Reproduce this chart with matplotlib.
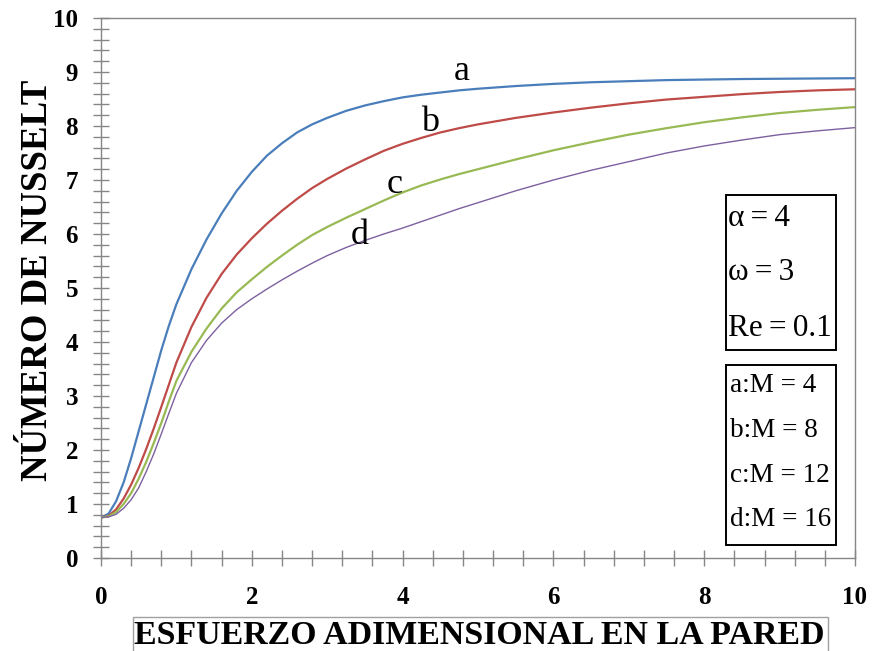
import matplotlib
matplotlib.use("Agg")
import matplotlib.pyplot as plt
from matplotlib.ticker import MultipleLocator
from matplotlib.patches import Rectangle

# ---------------- data ----------------
x_vals = [0, 0.1, 0.2, 0.3, 0.4, 0.5, 0.6, 0.7, 0.8, 0.9, 1.0,
          1.2, 1.4, 1.6, 1.8, 2.0, 2.2, 2.4, 2.6, 2.8, 3.0,
          3.25, 3.5, 3.75, 4.0, 4.25, 4.5, 4.75, 5.0,
          5.5, 6.0, 6.5, 7.0, 7.5, 8.0, 8.5, 9.0, 9.5, 10.0]

nu_a = [0.75, 0.82, 1.05, 1.4, 1.85, 2.35, 2.85, 3.35, 3.85, 4.3, 4.7,
        5.35, 5.9, 6.38, 6.8, 7.15, 7.45, 7.68, 7.88, 8.03, 8.15,
        8.28, 8.38, 8.46, 8.53, 8.58, 8.62, 8.66, 8.69,
        8.74, 8.78, 8.81, 8.83, 8.85, 8.86, 8.87, 8.875, 8.88, 8.885]
nu_b = [0.75, 0.78, 0.9, 1.1, 1.36, 1.67, 2.02, 2.4, 2.8, 3.21, 3.62,
        4.28, 4.82, 5.26, 5.62, 5.92, 6.19, 6.43, 6.65, 6.85, 7.02,
        7.21, 7.38, 7.54, 7.67, 7.78, 7.88, 7.96, 8.03,
        8.15, 8.25, 8.34, 8.42, 8.49, 8.54, 8.59, 8.63, 8.66, 8.68]
nu_c = [0.75, 0.77, 0.85, 1.0, 1.2, 1.47, 1.78, 2.13, 2.5, 2.9, 3.28,
        3.82, 4.25, 4.62, 4.92, 5.16, 5.39, 5.6, 5.8, 5.98, 6.13,
        6.3, 6.46, 6.62, 6.77, 6.9, 7.01, 7.11, 7.2,
        7.38, 7.55, 7.7, 7.84, 7.96, 8.07, 8.16, 8.24, 8.3, 8.35]
nu_d = [0.75, 0.76, 0.81, 0.92, 1.08, 1.3, 1.6, 1.93, 2.3, 2.68, 3.05,
        3.62, 4.03, 4.35, 4.6, 4.8, 4.98, 5.15, 5.31, 5.46, 5.6,
        5.75, 5.88, 6.0, 6.11, 6.23, 6.35, 6.47, 6.58,
        6.8, 7.0, 7.18, 7.34, 7.5, 7.63, 7.74, 7.84, 7.91, 7.97]

series_names = ["a", "b", "c", "d"]
series_colors = ["#4a7ebb", "#be4b48", "#98b954", "#7d60a0"]
series_widths = [1.6, 1.6, 1.6, 1.0]
label_pos = [(4.79, 9.0), (4.36, 8.07), (3.90, 6.91), (3.43, 5.98)]

param_lines = ["α\u2009=\u20094", "ω\u2009=\u20093", "Re\u2009=\u20090.1"]
legend_lines = ["a:M = 4", "b:M = 8", "c:M = 12", "d:M = 16"]

x_label = "ESFUERZO ADIMENSIONAL EN LA PARED"
y_label = "NÚMERO DE NUSSELT"

# ---------------- figure ----------------
serif = ["Liberation Serif", "DejaVu Serif"]
plt.rcParams["font.family"] = serif

W, H = 874, 651
fig = plt.figure(figsize=(W / 100, H / 100), dpi=100)
ax = fig.add_axes([101 / W, 1 - 558 / H, 754 / W, 540 / H])

for y, c, lw in zip([nu_a, nu_b, nu_c, nu_d], series_colors, series_widths):
    ax.plot(x_vals, y, color=c, lw=lw, solid_capstyle="round",
            solid_joinstyle="round")

for name, (lx, ly) in zip(series_names, label_pos):
    ax.text(lx, ly, name, fontsize=26, ha="center", va="center", color="black")

ax.set_xlim(0, 10)
ax.set_ylim(0, 10)
ax.xaxis.set_major_locator(MultipleLocator(2))
ax.xaxis.set_minor_locator(MultipleLocator(0.4))
ax.yaxis.set_major_locator(MultipleLocator(1))
ax.yaxis.set_minor_locator(MultipleLocator(0.2))

grey = "#868686"
for s in ax.spines.values():
    s.set_color(grey)
    s.set_linewidth(1.0)

ax.tick_params(which="both", direction="inout", length=11, width=1.0, color=grey)
ax.tick_params(axis="y", which="major", pad=11)
ax.tick_params(axis="x", which="major", pad=15)
for lab in ax.get_xticklabels() + ax.get_yticklabels():
    lab.set_fontweight("bold")
    lab.set_fontsize(18)

ax.set_ylabel(y_label, fontsize=26.5, fontweight="bold", va="center")
ax.yaxis.set_label_coords(-0.0836, 0.515)

# x label: text with its own grey frame (frame runs off the bottom edge)
fig.text(479 / W, 1 - 643.5 / H, x_label, fontsize=24.4, fontweight="bold",
         ha="center", va="baseline")
fig.add_artist(Rectangle((133 / W, -0.01), (828 - 133) / W, 0.01 + (H - 617) / H,
                         transform=fig.transFigure, fill=False, ec="#a0a0a0",
                         lw=1.0, clip_on=False))

# parameter box
tr = ax.transAxes
def ax_fx(px):
    return (px - 101) / 754
def ax_fy(py):
    return (558 - py) / 540

ax.add_patch(Rectangle((ax_fx(726), ax_fy(350)), ax_fx(836) - ax_fx(726),
                       ax_fy(195) - ax_fy(350), transform=tr, fill=False,
                       ec="black", lw=1.4, zorder=5))
for i, t in enumerate(param_lines):
    ax.text(ax_fx(728), ax_fy(218 + 55 * i), t, transform=tr, fontsize=22.5,
            ha="left", va="center")

ax.add_patch(Rectangle((ax_fx(726), ax_fy(545)), ax_fx(836) - ax_fx(726),
                       ax_fy(365) - ax_fy(545), transform=tr, fill=False,
                       ec="black", lw=1.4, zorder=5))
for i, t in enumerate(legend_lines):
    ax.text(ax_fx(730), ax_fy(386 + 44.5 * i), t, transform=tr, fontsize=19.5,
            ha="left", va="center")

fig.savefig("out.png", dpi=100)
